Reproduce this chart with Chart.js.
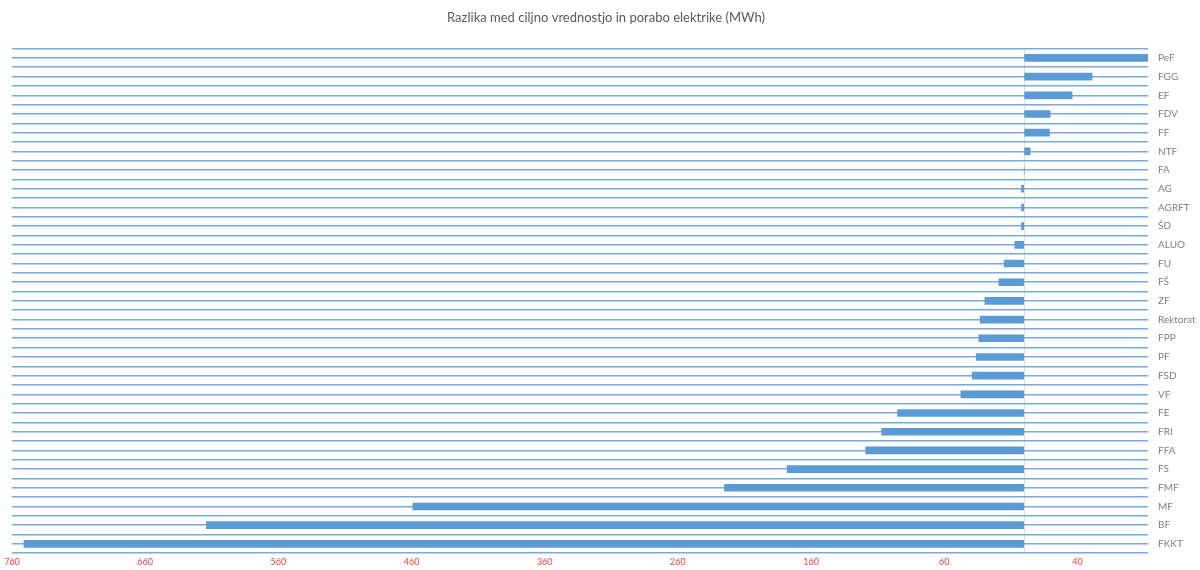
<!DOCTYPE html>
<html>
<head>
<meta charset="utf-8">
<script src="https://cdn.jsdelivr.net/npm/chart.js@4/dist/chart.umd.min.js"></script>
<style>
    html, body { margin: 0; padding: 0; background: #ffffff; }
    #wrap { width: 1200px; height: 570px; position: relative; }
</style>
</head>
<body>
<div id="wrap"><canvas id="chart"></canvas></div>
<script>
// categories top to bottom
const faculties = ['PeF', 'FGG', 'EF', 'FDV', 'FF', 'NTF', 'FA', 'AG', 'AGRFT', 'ŠD', 'ALUO', 'FU', 'FŠ', 'ZF',
    'Rektorat', 'FPP', 'PF', 'FSD', 'VF', 'FE', 'FRI', 'FFA', 'FS', 'FMF', 'MF', 'BF', 'FKKT'];
// difference between target and consumption (MWh)
const difference = [93, 51, 36, 19.5, 19, 4.5, 0, -2, -2, -2, -7, -15, -19, -29.5,
    -33, -34, -36, -39, -47.5, -95, -107, -119, -178, -225, -459, -614, -751];
// x axis ticks, shown without sign
const xTicks = [-760, -660, -560, -460, -360, -260, -160, -60, 0, 40];
const xMin = -760;
const xMax = 93;

const fontFamily = 'Lato, "Open Sans", sans-serif';
const rowLine = '#78abdc';

new Chart(document.getElementById('chart').getContext('2d'), {
    type: 'bar',
    data: {
        labels: faculties,
        datasets: [{
            data: difference,
            backgroundColor: '#5b9bd5',
            borderWidth: 0,
            barThickness: 7,
            yAxisID: 'y'
        }]
    },
    options: {
        indexAxis: 'y',
        responsive: true,
        maintainAspectRatio: false,
        animation: false,
        layout: { padding: { left: 12, right: 0, top: 0, bottom: 0 } },
        plugins: {
            legend: { display: false },
            tooltip: { enabled: false },
            title: {
                display: true,
                text: 'Razlika med ciljno vrednostjo in porabo elektrike (MWh)',
                color: '#595959',
                font: { family: fontFamily, size: 13, weight: 'normal' },
                padding: { top: 10, bottom: 23 }
            }
        },
        scales: {
            x: {
                type: 'linear',
                min: xMin,
                max: xMax,
                afterBuildTicks: axis => {
                    axis.ticks = xTicks.map(v => ({ value: v }));
                },
                ticks: {
                    autoSkip: false,
                    maxRotation: 0,
                    color: '#ff3b3b',
                    padding: 3,
                    font: { family: fontFamily, size: 9 },
                    callback: v => v === 0 ? '' : String(Math.abs(v))
                },
                grid: {
                    drawTicks: false,
                    lineWidth: 1,
                    color: ctx => (ctx.tick && ctx.tick.value === 0) ? '#e4dcd2' : 'rgba(0,0,0,0)'
                },
                border: { display: false }
            },
            y: {
                type: 'category',
                position: 'right',
                afterFit: scale => { scale.width = 52; },
                ticks: {
                    color: '#7f7f7f',
                    padding: 10,
                    font: { family: fontFamily, size: 10 }
                },
                grid: { offset: true, drawTicks: false, color: rowLine, lineWidth: 1.6 },
                border: { display: false }
            },
            y2: {
                type: 'category',
                labels: faculties,
                position: 'left',
                ticks: { display: false },
                grid: { offset: false, drawTicks: false, color: rowLine, lineWidth: 1.6 },
                border: { display: false }
            }
        }
    }
});
</script>
</body>
</html>
